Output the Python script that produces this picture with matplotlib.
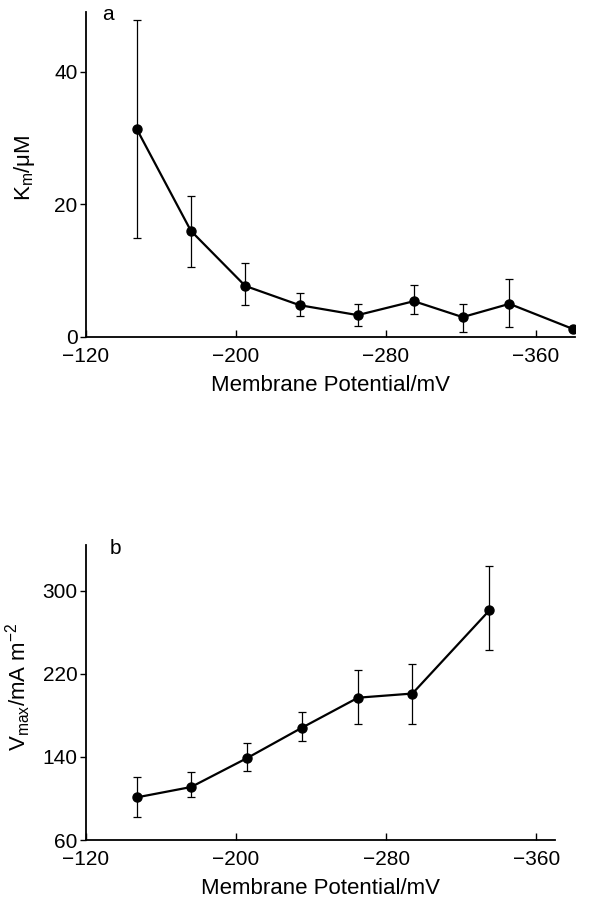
import matplotlib
matplotlib.use("Agg")
import matplotlib.pyplot as plt

plt.rcParams['font.family'] = ['Liberation Sans', 'DejaVu Sans']
plt.rcParams['font.size'] = 15

# panel a: Km vs membrane potential
pot_a = [-147, -176, -205, -234, -265, -295, -321, -346, -380]
km = [31.4, 16.0, 7.7, 4.8, 3.3, 5.4, 3.0, 5.0, 1.2]
km_hi = [47.8, 21.2, 11.1, 6.7, 5.0, 7.9, 5.0, 8.7, 1.2]
km_lo = [15.0, 10.5, 4.8, 3.2, 1.7, 3.4, 0.8, 1.5, 1.2]

# panel b: Vmax vs membrane potential
pot_b = [-147, -176, -206, -235, -265, -294, -335]
vmax = [101, 111, 139, 168, 197, 201, 281]
vmax_hi = [121, 125, 153, 183, 224, 229, 324]
vmax_lo = [82, 101, 126, 155, 172, 172, 243]

xticks = [-120, -200, -280, -360]


def panel(ax, x, y, hi, lo):
    err = [[v - l for v, l in zip(y, lo)], [h - v for v, h in zip(y, hi)]]
    ax.errorbar(x, y, yerr=err, color='black', lw=1.6, marker='o', ms=6.5,
                elinewidth=0.9, capsize=3, capthick=0.9)
    ax.spines['top'].set_visible(False)
    ax.spines['right'].set_visible(False)
    ax.spines['left'].set_linewidth(1.3)
    ax.spines['bottom'].set_linewidth(1.3)
    ax.set_xticks(xticks)
    ax.tick_params(axis='x', direction='in', length=5, width=1, pad=7)
    ax.tick_params(axis='y', direction='out', length=4, width=1, pad=2)
    ax.set_xlabel('Membrane Potential/mV', fontsize=16, labelpad=7)


fig = plt.figure(figsize=(5.99, 9), dpi=100)

ax1 = fig.add_axes([86/599, 1-337/900, 489/599, 325/900])
panel(ax1, pot_a, km, km_hi, km_lo)
ax1.set_xlim(-120, -381)
ax1.set_ylim(0, 49)
ax1.set_yticks([0, 20, 40])
ax1.set_ylabel(r'K$_\mathregular{m}$/μM', fontsize=16)
ax1.yaxis.set_label_coords(-0.10, 0.52)
fig.text(102/599, 1-15/900, 'a', va='center', ha='left', fontsize=15)

ax2 = fig.add_axes([86/599, 1-840/900, 469/599, 295/900])
panel(ax2, pot_b, vmax, vmax_hi, vmax_lo)
ax2.set_xlim(-120, -370)
ax2.set_ylim(60, 344)
ax2.set_yticks([60, 140, 220, 300])
ax2.set_ylabel(r'V$_\mathregular{max}$/mA m$^\mathregular{-2}$', fontsize=16)
ax2.yaxis.set_label_coords(-0.113, 0.52)
fig.text(110/599, 1-548/900, 'b', va='center', ha='left', fontsize=15)

fig.savefig('out.png', dpi=100)
